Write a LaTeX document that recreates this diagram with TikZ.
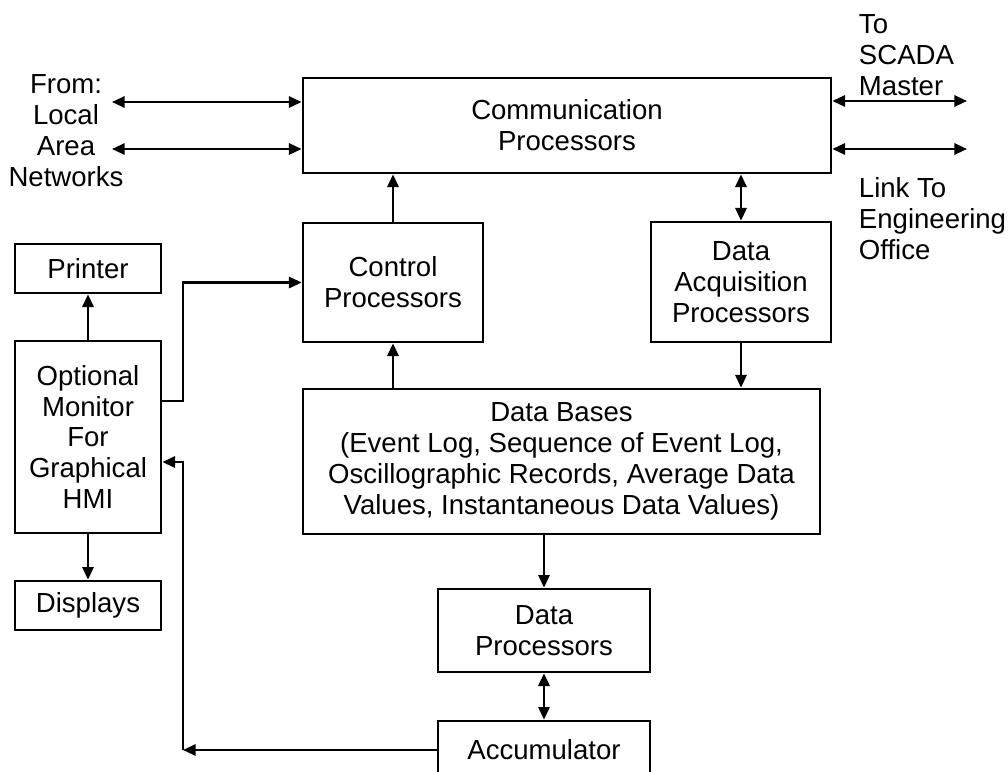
\documentclass[tikz,border=0pt]{standalone}
\usepackage{fontspec}
\setmainfont{Liberation Sans}
\usepackage{tikz}
\usetikzlibrary{calc}
\usetikzlibrary{arrows.meta}

\begin{document}
\begin{tikzpicture}[x=0.025cm, y=-0.025cm,
    blok/.style={draw, line width=1.9pt, inner sep=0pt, align=center},
    panah/.style={line width=1.6pt, -{Triangle[length=9pt, width=8pt]}},
    duapanah/.style={line width=1.6pt, {Triangle[length=9pt, width=8pt]}-{Triangle[length=9pt, width=8pt]}},
    font=\fontsize{19.6}{22}\selectfont]
        %BATAS
        \useasboundingbox (0,0) rectangle (1008,771);
        \clip (0,0) rectangle (1008,771);
        %KOTAK
        \node[blok, minimum width=13.2cm, minimum height=2.375cm] (comm) at (567,125.5) {Communication\\Processors};
        \node[blok, minimum width=4.5cm, minimum height=2.975cm] (ctrl) at (393,282.5) {Control\\Processors};
        \node[blok, minimum width=4.5cm, minimum height=3cm] (daq) at (741,282) {Data\\Acquisition\\Processors};
        \node[blok, minimum width=12.925cm, minimum height=3.625cm] (db) at (561.5,461.5) {Data Bases\\(Event Log, Sequence of Event Log,\\Oscillographic Records, Average Data\\Values, Instantaneous Data Values)};
        \node[blok, minimum width=5.3cm, minimum height=2.075cm] (dproc) at (544,630.5) {Data\\Processors};
        \node[blok, minimum width=5.3cm, minimum height=1.45cm] (acc) at (544,750) {Accumulator};
        \node[blok, minimum width=3.65cm, minimum height=1.225cm] (printer) at (88,268.5) {Printer};
        \node[blok, minimum width=3.65cm, minimum height=4.8cm] (mon) at (88,437) {Optional\\Monitor\\For\\Graphical\\HMI};
        \node[blok, minimum width=3.65cm, minimum height=1.225cm] (disp) at (88,605.5) {Displays};
        %LABEL
        \node[align=center] (lan) at (66,131) {From:\\Local\\Area\\Networks};
        \node[align=left, anchor=west] (scada) at (854,55) {To\\SCADA\\Master};
        \node[align=left, anchor=west] (eng) at (854,219) {Link To\\Engineering\\Office};
        %UJUNG BEBAS
        \coordinate (lanA) at (112,102);
        \coordinate (lanB) at (112,149);
        \coordinate (scadaend) at (967,101);
        \coordinate (engend) at (967,149);
        \coordinate (bendA) at (183,282.5);
        \coordinate (corner) at (183,750);
        %GARIS HUBUNG
        \draw[duapanah] (lanA) -- (lanA -| comm.west);
        \draw[duapanah] (lanB) -- (lanB -| comm.west);
        \draw[duapanah] (scadaend -| comm.east) -- (scadaend);
        \draw[duapanah] (engend -| comm.east) -- (engend);
        \draw[panah] (ctrl.north) -- (ctrl.north |- comm.south);
        \draw[duapanah] (daq.north) -- (daq.north |- comm.south);
        \draw[panah] (daq.south) -- (daq.south |- db.north);
        \draw[panah] (ctrl.south |- db.north) -- (ctrl.south);
        \draw[panah] (dproc.north |- db.south) -- (dproc.north);
        \draw[duapanah] (dproc.south) -- (acc.north);
        \draw[panah] (mon.north) -- (printer.south);
        \draw[panah] (mon.south) -- (disp.north);
        \draw[panah] ([yshift=0.9cm]mon.east) -| (bendA) -- (ctrl.west);
        \draw[panah] (acc.west) -- (corner);
        \draw[panah] (corner) |- ([yshift=-0.625cm]mon.east);
\end{tikzpicture}
\end{document}
